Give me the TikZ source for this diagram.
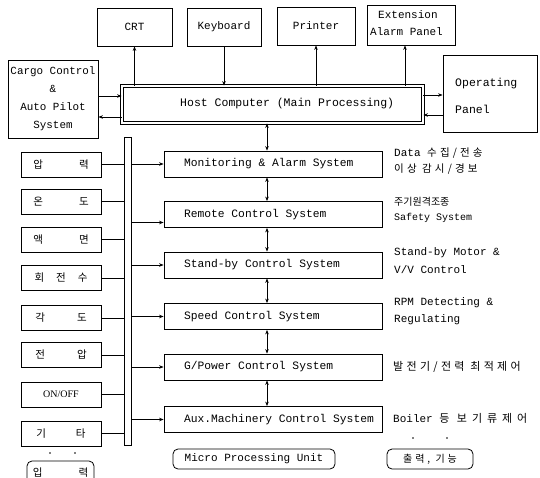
\documentclass[tikz,border=0pt]{standalone}
\usepackage{fontspec}
\setmainfont{Liberation Serif}
\setmonofont{Liberation Mono}
\newfontfamily\kr{Noto Sans CJK KR}
\newfontfamily\krw[LetterSpace=30]{Noto Sans CJK KR}
\newfontfamily\krww[LetterSpace=45]{Noto Sans CJK KR}
\newcommand\syslabel[1]{\makebox[178pt][l]{#1}}
\usetikzlibrary{arrows.meta,calc}
\begin{document}
\begin{tikzpicture}[x=1pt,y=-1pt,
  box/.style={draw, line width=0.8pt, inner sep=0pt, font=\ttfamily\fontsize{11}{13}\selectfont},
  sysbox/.style={box, minimum width=218pt, minimum height=26pt, inner xsep=20pt, font=\ttfamily\fontsize{11.3}{13}\selectfont},
  inbox/.style={box, minimum width=80pt, minimum height=25pt, font=\kr\fontsize{10.5}{12}\selectfont},
  rbox/.style={box, rounded corners=5pt, minimum height=20pt},
  note/.style={anchor=west, inner sep=0pt, font=\ttfamily\fontsize{11}{13}\selectfont},
  knote/.style={anchor=west, inner sep=0pt, font=\krw\fontsize{10.5}{13}\selectfont},
  lbl/.style={inner sep=0pt, font=\ttfamily\fontsize{11}{13}\selectfont},
  arr/.style={line width=0.7pt, -{Stealth[length=4.5pt,width=3.5pt]}},
  darr/.style={line width=0.7pt, {Stealth[length=4.5pt,width=3.5pt]}-{Stealth[length=4.5pt,width=3.5pt]}},
  ln/.style={line width=0.7pt},
  dot/.style={circle, fill, inner sep=0pt, minimum size=1.8pt}]
\useasboundingbox (0,0) rectangle (540,478);
% top row
\node[box, minimum width=75pt, minimum height=38pt] (crt) at (134.5,27) {CRT};
\node[box, minimum width=74pt, minimum height=38pt] (kbd) at (224,27) {Keyboard};
\node[box, minimum width=78pt, minimum height=38pt] (prn) at (316,26) {Printer};
\node[box, minimum width=88pt, minimum height=40pt] (ext) at (411,25) {};
\node[lbl, anchor=west] (ext1) at (378,15) {Extension};
\node[lbl, anchor=west] (ext2) at (370,32) {Alarm Panel};
% host
\node[box, double, double distance=1.6pt, minimum width=301pt, minimum height=37pt] (host) at (272.5,104.5) {};
\node[lbl, anchor=west, font=\ttfamily\fontsize{11.5}{13}\selectfont] (hostl) at (180,104) {Host Computer (Main Processing)};
% cargo
\node[box, minimum width=90pt, minimum height=78pt, align=center, font=\ttfamily\fontsize{10.9}{18}\selectfont] (cargo) at (53,99) {Cargo Control\\\&\\Auto Pilot\\System};
% operating panel
\node[box, minimum width=94pt, minimum height=77pt] (op) at (490,93.5) {};
\node[lbl, anchor=west, align=left, font=\ttfamily\fontsize{11.5}{27}\selectfont] (opl) at (455,96) {Operating\\Panel};
% top arrows
\draw[arr] (host.north -| crt.south) -- (crt.south);
\draw[arr] (kbd.south) -- (kbd.south |- host.north);
\draw[arr] (host.north -| prn.south) -- (prn.south);
\path ([xshift=-6pt]ext.south) coordinate (exs);
\draw[arr] (host.north -| exs) -- (exs);
\path ([yshift=8.5pt]host.west) coordinate (hw1) ([yshift=-12.5pt]host.west) coordinate (hw2);
\draw[arr] (cargo.east |- hw1) -- (hw1);
\draw[arr] (hw2) -- (cargo.east |- hw2);
\path ([yshift=9.5pt]host.east) coordinate (he1) ([yshift=-10.5pt]host.east) coordinate (he2);
\draw[arr] (he1) -- (op.west |- he1);
\draw[arr] (op.west |- he2) -- (he2);
% system boxes
\node[sysbox] (mon) at (273,164) {\syslabel{Monitoring \& Alarm System}};
\node[sysbox] (rem) at (273,214.5) {\syslabel{Remote Control System}};
\node[sysbox] (sby) at (273,265) {\syslabel{Stand-by Control System}};
\node[sysbox] (spd) at (273,316.5) {\syslabel{Speed Control System}};
\node[sysbox] (gpw) at (273,367) {\syslabel{G/Power Control System}};
\node[sysbox] (aux) at (273,419.5) {\syslabel{Aux.Machinery Control System}};
\coordinate (vx) at (267,0);
\draw[darr] (host.south -| vx) -- (mon.north -| vx);
\draw[darr] (mon.south -| vx) -- (rem.north -| vx);
\draw[darr] (rem.south -| vx) -- (sby.north -| vx);
\draw[darr] (sby.south -| vx) -- (spd.north -| vx);
\draw[darr] (spd.south -| vx) -- (gpw.north -| vx);
\draw[darr] (gpw.south -| vx) -- (aux.north -| vx);
% bus
\node[draw, line width=0.8pt, minimum width=7pt, minimum height=308pt, inner sep=0pt] (bus) at (127.5,291) {};
\draw[arr] (bus.east |- mon.west) -- (mon.west);
\path ([yshift=-8pt]rem.west) coordinate (rw);
\draw[arr] (bus.east |- rw) -- (rw);
\draw[arr] (bus.east |- sby.west) -- (sby.west);
\draw[arr] (bus.east |- spd.west) -- (spd.west);
\draw[arr] (bus.east |- gpw.west) -- (gpw.west);
\draw[arr] (bus.east |- aux.west) -- (aux.west);
% input boxes
\node[inbox] (i1) at (61,164.5) {압\hspace{36pt}력};
\node[inbox] (i2) at (61,201.5) {온\hspace{36pt}도};
\node[inbox] (i3) at (61,239.5) {액\hspace{36pt}면};
\node[inbox] (i4) at (61,278) {회\hspace{12pt}전\hspace{12pt}수};
\node[inbox] (i5) at (61,318) {각\hspace{32pt}도};
\node[inbox] (i6) at (61,355) {전\hspace{32pt}압};
\node[inbox, font=\rmfamily\fontsize{10}{12}\selectfont] (i7) at (61,394.5) {ON/OFF};
\node[inbox] (i8) at (61,433.5) {기\hspace{30pt}타};
\foreach \n in {i1,i2,i3,i4,i5,i6,i7,i8} \draw[ln] (\n.east) -- (\n.east -| bus.west);
\node[dot] (ld1) at (50,453) {};
\node[dot] (ld2) at (75,453) {};
\node[inbox, rounded corners=5pt, minimum width=67pt, minimum height=24pt] (inp) at (60.5,473) {입\hspace{36pt}력};
% bottom boxes
\node[rbox, minimum width=162pt] (mpu) at (254,459) {Micro Processing Unit};
\node[rbox, minimum width=86pt, font=\krw\fontsize{10}{12}\selectfont] (outb) at (430,459) {출력, 기능};
\node[dot] (rd1) at (413,438) {};
\node[dot] (rd2) at (447,438) {};
% right notes
\node[note] (n1) at (394,153) {Data \krw\fontsize{10.5}{13}\selectfont 수집/전송};
\node[knote] (n2) at (394,169) {이상 감시/경보};
\node[knote, font=\kr\fontsize{10}{12}\selectfont] (n3) at (394,202) {주기원격조종};
\node[note, font=\ttfamily\fontsize{10}{12}\selectfont] (n4) at (394,218) {Safety System};
\node[note] (n5) at (394,253) {Stand-by Motor \&};
\node[note] (n6) at (394,270) {V/V Control};
\node[note] (n7) at (394,303) {RPM Detecting \&};
\node[note] (n8) at (394,320) {Regulating};
\node[knote, font=\krw\fontsize{11}{13}\selectfont] (n9) at (393,367) {발전기/전력 최적제어};
\node[note] (n10) at (393,418) {Boiler \krww\fontsize{11}{13}\selectfont 등 보기류제어};
\end{tikzpicture}
\end{document}
